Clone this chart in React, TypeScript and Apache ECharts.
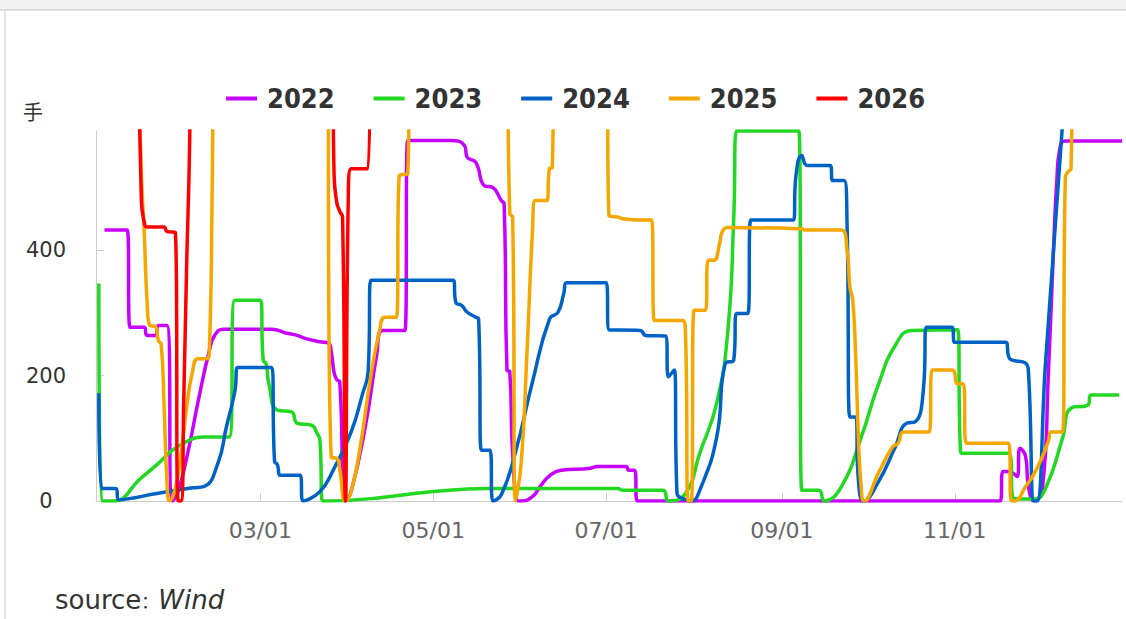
import { useEffect, useRef } from 'react';
import * as echarts from 'echarts';

// ---------- data ----------
const BASE_YEAR = 2023;
const X_MIN = '01-02';
const X_MAX = '12-30';
const Y_MAX = 590;
const Y_INTERVAL = 200;
const Y_UNIT = '手';
const SOURCE_LABEL = 'source';
const SOURCE_NAME = 'Wind';

const tickLabels = ['03/01', '05/01', '07/01', '09/01', '11/01'];
const seriesNames = ['2022', '2023', '2024', '2025', '2026'];
const seriesColors = ['#c800ff', '#22d822', '#0062c4', '#f5a700', '#ff0000'];

const s2022: [string, number][] = [
  ['01-05', 432], ['01-13', 432], ['01-14', 277], ['01-19', 277], ['01-20', 264], ['01-23', 264],
  ['01-24', 280], ['01-27', 280], ['01-29', 0], ['01-31', 15], ['02-04', 90], ['02-07', 158],
  ['02-11', 240], ['02-13', 265], ['02-16', 274], ['03-05', 274], ['03-10', 268], ['03-14', 264],
  ['03-17', 259], ['03-22', 254], ['03-25', 252], ['03-26', 238], ['03-27', 205], ['03-28', 193],
  ['03-29', 190], ['03-31', 0], ['04-02', 15], ['04-07', 118], ['04-11', 232], ['04-13', 272],
  ['04-21', 272], ['04-22', 575], ['05-07', 575], ['05-12', 567], ['05-13', 548], ['05-16', 540],
  ['05-19', 503], ['05-22', 500], ['05-25', 479], ['05-26', 474], ['05-27', 209], ['05-28', 206],
  ['05-29', 76], ['05-31', 0], ['06-01', 0], ['06-05', 7], ['06-08', 25], ['06-11', 40],
  ['06-15', 49], ['06-25', 52], ['06-28', 55], ['07-08', 55], ['07-09', 49], ['07-11', 49],
  ['07-12', 0], ['11-17', 0], ['11-18', 47], ['11-20', 47], ['11-23', 39], ['11-24', 84],
  ['11-26', 71], ['11-27', 23], ['11-29', 0], ['12-02', 23], ['12-04', 200], ['12-06', 420],
  ['12-07', 510], ['12-08', 560], ['12-10', 574], ['12-30', 574],
];

const s2023: [string, number][] = [
  ['01-03', 347], ['01-04', 0], ['01-08', 0], ['01-18', 37], ['01-24', 60], ['01-29', 81],
  ['02-04', 97], ['02-09', 102], ['02-18', 102], ['02-20', 320], ['03-01', 320], ['03-02', 224],
  ['03-03', 219], ['03-04', 187], ['03-07', 145], ['03-12', 142], ['03-14', 124], ['03-19', 121],
  ['03-21', 108], ['03-22', 97], ['03-23', 0], ['04-01', 1], ['05-01', 15], ['05-20', 20],
  ['07-05', 20], ['07-07', 17], ['07-21', 17], ['07-23', 0], ['07-29', 12], ['08-03', 76],
  ['08-09', 156], ['08-13', 275], ['08-15', 450], ['08-16', 590], ['09-07', 590], ['09-08', 17],
  ['09-14', 17], ['09-16', 0], ['09-22', 23], ['09-29', 102], ['10-05', 185], ['10-11', 248],
  ['10-17', 272], ['11-02', 273], ['11-03', 80], ['11-04', 76], ['11-20', 76], ['11-22', 4],
  ['11-29', 3], ['12-03', 20], ['12-09', 100], ['12-12', 148], ['12-18', 153], ['12-19', 169],
  ['12-29', 169],
];

const s2024: [string, number][] = [
  ['01-03', 172], ['01-04', 20], ['01-09', 20], ['01-10', 2], ['01-25', 13], ['02-05', 21],
  ['02-09', 23], ['02-14', 60], ['02-17', 118], ['02-20', 175], ['02-21', 213], ['03-05', 213],
  ['03-06', 63], ['03-07', 58], ['03-08', 41], ['03-15', 41], ['03-16', 0], ['03-22', 15],
  ['03-27', 52], ['04-02', 110], ['04-06', 170], ['04-08', 206], ['04-09', 352], ['05-08', 352],
  ['05-09', 316], ['05-11', 312], ['05-13', 301], ['05-16', 293], ['05-17', 290], ['05-18', 81],
  ['05-21', 81], ['05-22', 0], ['05-25', 10], ['05-30', 78], ['06-05', 190], ['06-11', 290],
  ['06-14', 301], ['06-16', 330], ['06-17', 348], ['07-01', 348], ['07-02', 273], ['07-13', 272],
  ['07-15', 264], ['07-22', 263], ['07-23', 198], ['07-25', 209], ['07-26', 12], ['07-28', 4],
  ['07-31', 0], ['08-03', 17], ['08-09', 102], ['08-12', 219], ['08-15', 225], ['08-16', 299],
  ['08-20', 299], ['08-21', 448], ['09-05', 448], ['09-06', 520], ['09-08', 551], ['09-10', 535],
  ['09-18', 535], ['09-19', 511], ['09-23', 511], ['09-24', 440], ['09-25', 134], ['09-27', 134],
  ['09-28', 33], ['09-30', 0], ['10-05', 30], ['10-11', 86], ['10-15', 124], ['10-18', 126],
  ['10-21', 182], ['10-22', 277], ['10-31', 277], ['11-01', 253], ['11-19', 253], ['11-20', 230],
  ['11-21', 225], ['11-26', 220], ['11-27', 205], ['11-29', 0], ['11-30', 0], ['12-03', 220],
  ['12-09', 600],
];

const s2025: [string, number][] = [
  ['01-14', 1100], ['01-18', 520], ['01-19', 430], ['01-20', 320], ['01-21', 280], ['01-23', 278],
  ['01-24', 256], ['01-25', 250], ['01-26', 155], ['01-27', 35], ['01-28', 0], ['01-30', 20],
  ['02-01', 75], ['02-03', 150], ['02-05', 205], ['02-07', 227], ['02-10', 227], ['02-11', 240],
  ['02-12', 500], ['02-13', 900], ['03-24', 900], ['03-26', 70], ['03-28', 68], ['03-29', 50],
  ['03-31', 0], ['04-02', 15], ['04-05', 80], ['04-09', 200], ['04-12', 270], ['04-14', 293],
  ['04-18', 293], ['04-19', 519], ['04-22', 522], ['04-23', 900], ['05-26', 900], ['05-28', 458],
  ['05-29', 453], ['05-30', 0], ['06-01', 60], ['06-03', 230], ['06-05', 430], ['06-06', 479],
  ['06-10', 479], ['06-11', 530], ['06-12', 532], ['06-13', 900], ['07-01', 900], ['07-02', 455],
  ['07-05', 453], ['07-07', 450], ['07-13', 448], ['07-17', 448], ['07-18', 288], ['07-28', 288],
  ['07-29', 265], ['07-30', 0], ['07-31', 0], ['08-01', 304], ['08-05', 304], ['08-06', 384],
  ['08-08', 384], ['08-10', 410], ['08-11', 430], ['08-13', 436], ['09-08', 434], ['09-09', 432],
  ['09-22', 432], ['09-24', 400], ['09-25', 341], ['09-26', 320], ['09-27', 235], ['09-28', 100],
  ['09-29', 20], ['09-30', 0], ['10-05', 44], ['10-10', 86], ['10-12', 92], ['10-14', 110],
  ['10-23', 110], ['10-24', 209], ['10-31', 209], ['11-02', 187], ['11-04', 187], ['11-05', 92],
  ['11-20', 92], ['11-21', 0], ['11-22', 0], ['11-26', 23], ['11-30', 52], ['12-04', 95],
  ['12-05', 110], ['12-09', 110], ['12-10', 516], ['12-11', 525], ['12-12', 530], ['12-13', 900],
];

const s2026: [string, number][] = [
  ['01-16', 1000], ['01-18', 480], ['01-19', 445], ['01-20', 437], ['01-26', 437], ['01-27', 430],
  ['01-30', 428], ['01-31', 0], ['02-01', 0], ['02-02', 170], ['02-03', 380], ['02-04', 560],
  ['02-05', 900], ['03-26', 900], ['03-27', 520], ['03-28', 475], ['03-29', 462], ['03-30', 452],
  ['03-31', 0], ['04-01', 480], ['04-02', 530], ['04-08', 530], ['04-09', 900],
];

const allSeries = [s2022, s2023, s2024, s2025, s2026];

// ---------- helpers ----------
const DAY = 86400000;
const YEAR_START = Date.UTC(BASE_YEAR, 0, 1);
function dayOf(md: string): number {
  const [m, d] = md.split(/[-/]/).map(Number);
  return Math.round((Date.UTC(BASE_YEAR, m - 1, d) - YEAR_START) / DAY);
}
const pad = (n: number) => (n < 10 ? '0' + n : '' + n);
function dayLabel(v: number): string {
  const dt = new Date(YEAR_START + Math.round(v) * DAY);
  return pad(dt.getUTCMonth() + 1) + '/' + pad(dt.getUTCDate());
}

export default function App() {
  const ref = useRef<HTMLDivElement>(null);

  useEffect(() => {
    if (!ref.current) return;
    const chart = echarts.init(ref.current, null, { renderer: 'svg' });
    const tickDays = tickLabels.map(dayOf);

    chart.setOption({
      animation: false,
      backgroundColor: 'transparent',
      grid: {
        left: 96,
        right: 4,
        top: 131,
        bottom: 118,
        containLabel: false,
        outerBoundsMode: 'none',
      },
      legend: {
        left: 221,
        top: 80,
        icon: 'rect',
        itemWidth: 31,
        itemHeight: 4,
        itemGap: 39,
        data: seriesNames,
        textStyle: {
          fontSize: 27,
          fontFamily: 'DejaVu Sans Condensed, DejaVu Sans, sans-serif',
          fontWeight: 'bold',
          color: '#333',
          padding: [0, 0, 0, 5],
        },
      },
      xAxis: {
        type: 'value',
        min: dayOf(X_MIN),
        max: dayOf(X_MAX),
        splitLine: { show: false },
        axisLine: { lineStyle: { color: '#cccccc', width: 1 } },
        axisTick: {
          show: true,
          inside: true,
          length: 8,
          customValues: tickDays,
          lineStyle: { color: '#cccccc' },
        },
        axisLabel: {
          customValues: tickDays,
          margin: 18,
          fontSize: 22,
          fontFamily: 'DejaVu Sans, sans-serif',
          color: '#666',
          formatter: (v: number) => dayLabel(v),
        },
      },
      yAxis: {
        type: 'value',
        min: 0,
        max: Y_MAX,
        interval: Y_INTERVAL,
        splitLine: { show: false },
        axisLine: { show: true, lineStyle: { color: '#cccccc', width: 1 } },
        axisTick: { show: true, inside: true, length: 8, lineStyle: { color: '#cccccc' } },
        axisLabel: {
          margin: 50,
          align: 'center',
          fontSize: 21,
          fontFamily: 'DejaVu Sans, sans-serif',
          color: '#333',
          showMaxLabel: false,
          formatter: (v: number) => (v % Y_INTERVAL === 0 ? String(v) : ''),
        },
      },
      graphic: [
        {
          type: 'text',
          left: 23,
          top: 101,
          style: {
            text: Y_UNIT,
            fontSize: 20,
            fontFamily: 'Noto Sans CJK SC, sans-serif',
            fill: '#333',
          },
        },
        {
          type: 'text',
          x: 55,
          y: 600,
          style: {
            text: '{a|' + SOURCE_LABEL + '}{c|：}{b|' + SOURCE_NAME + '}',
            verticalAlign: 'middle',
            rich: {
              a: { fontSize: 26, fontFamily: 'DejaVu Sans, sans-serif', fill: '#333' },
              c: { fontSize: 17, fontFamily: 'Noto Sans CJK SC, sans-serif', fill: '#333' },
              b: { fontSize: 26, fontFamily: 'DejaVu Sans, sans-serif', fontStyle: 'italic', fill: '#333' },
            },
          },
        },
      ],
      series: allSeries.map((arr, i) => ({
        name: seriesNames[i],
        type: 'line',
        smooth: true,
        symbol: 'none',
        showSymbol: false,
        clip: true,
        color: seriesColors[i],
        lineStyle: { width: 3.5, color: seriesColors[i] },
        emphasis: { disabled: true },
        data: arr.map(([d, v]) => [dayOf(d), v]),
      })),
    });

    return () => chart.dispose();
  }, []);

  return (
    <div
      style={{
        position: 'fixed',
        left: 0,
        top: 0,
        width: 1126,
        height: 619,
        background: '#fff',
        overflow: 'hidden',
      }}
    >
      <div ref={ref} style={{ position: 'absolute', left: 0, top: 0, width: 1126, height: 619 }} />
      <div
        style={{
          position: 'absolute',
          left: 0,
          top: 0,
          width: 1126,
          height: 9,
          background: '#f2f2f2',
          borderBottom: '2px solid #dcdcdc',
        }}
      />
      <div style={{ position: 'absolute', left: 4, top: 11, width: 2, height: 608, background: '#e4e4e4' }} />
    </div>
  );
}
